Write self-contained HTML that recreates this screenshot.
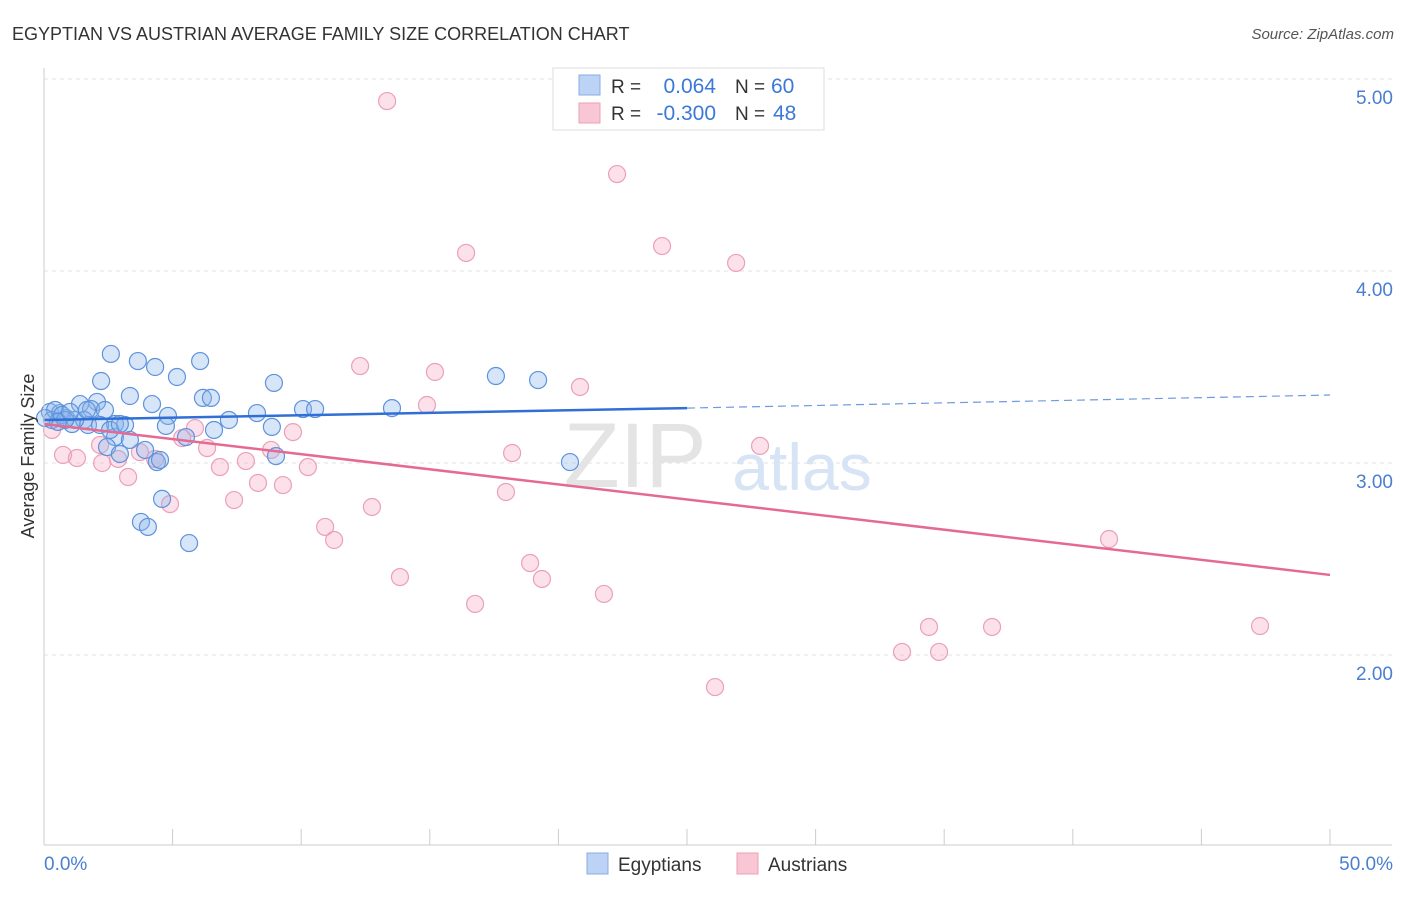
<!DOCTYPE html>
<html><head><meta charset="utf-8"><style>
body{margin:0;background:#fff;}
svg text{font-family:"Liberation Sans",sans-serif;}
</style></head><body>
<svg id="chart" width="1406" height="892" xmlns="http://www.w3.org/2000/svg">
<text x="12" y="40" font-size="18" fill="#333">EGYPTIAN VS AUSTRIAN AVERAGE FAMILY SIZE CORRELATION CHART</text>
<text x="1394" y="39" font-size="15" fill="#555" font-style="italic" text-anchor="end">Source: ZipAtlas.com</text>
<g id="grid"></g>
<text x="635" y="487" font-size="92" fill="#e4e4e4" font-family="Liberation Serif" text-anchor="middle">ZIP</text>
<text x="802" y="490" font-size="66" fill="#d6e4f5" text-anchor="middle">atlas</text>
<g id="points"></g>
<g id="trends"></g>
<line x1="44" y1="68" x2="44" y2="845" stroke="#ccc"/>
<line x1="44" y1="845" x2="1392" y2="845" stroke="#ccc"/>
<text transform="translate(34,456) rotate(-90)" font-size="18" fill="#333" text-anchor="middle">Average Family Size</text>
<text x="44" y="870" font-size="19" fill="#4a7fd0">0.0%</text>
<text x="1393" y="870" font-size="19" fill="#4a7fd0" text-anchor="end">50.0%</text>
<g>
<rect x="553" y="68" width="271" height="62" fill="#fff" stroke="#ddd"/>
<rect x="579" y="75" width="21" height="20" fill="#bcd3f5" stroke="#86aee6"/>
<rect x="579" y="103" width="21" height="20" fill="#f8c6d4" stroke="#eba0b6"/>
<text x="611" y="93" font-size="19" fill="#333">R =</text>
<text x="716" y="93" font-size="21" fill="#3b78d8" text-anchor="end">0.064</text>
<text x="735" y="93" font-size="19" fill="#333">N =</text>
<text x="771" y="93" font-size="21" fill="#3b78d8">60</text>
<text x="611" y="120" font-size="19" fill="#333">R =</text>
<text x="716" y="120" font-size="21" fill="#3b78d8" text-anchor="end">-0.300</text>
<text x="735" y="120" font-size="19" fill="#333">N =</text>
<text x="773" y="120" font-size="21" fill="#3b78d8">48</text>
</g>
<g>
<rect x="587" y="853" width="21" height="21" fill="#bcd3f5" stroke="#86aee6"/>
<text x="618" y="871" font-size="19" fill="#333">Egyptians</text>
<rect x="737" y="853" width="21" height="21" fill="#f8c6d4" stroke="#eba0b6"/>
<text x="768" y="871" font-size="19" fill="#333">Austrians</text>
</g>
</svg>
<script>
const yTicks=[5,4,3,2];
const yTickLabels=["5.00","4.00","3.00","2.00"];
const xTickCount=10;
const blueX=[2.60,3.65,4.32,6.07,2.22,5.17,3.34,4.20,6.18,6.49,8.94,17.57,19.21,1.40,2.06,1.83,2.37,4.82,7.19,8.28,10.07,10.54,13.53,0.23,0.62,0.86,1.09,1.56,2.76,3.15,4.74,6.61,8.86,5.52,1.71,2.76,3.34,2.45,2.95,3.93,4.39,4.51,9.02,20.45,4.59,3.77,4.04,5.64,0.31,0.43,0.70,1.21,1.67,2.18,2.57,0.82,0.54,0.04,2.95,1.01];
const blueY=[3.568,3.531,3.50,3.531,3.427,3.448,3.349,3.307,3.339,3.339,3.417,3.453,3.432,3.307,3.318,3.281,3.276,3.245,3.224,3.260,3.281,3.281,3.286,3.266,3.260,3.234,3.203,3.224,3.203,3.198,3.193,3.172,3.188,3.135,3.198,3.135,3.120,3.083,3.047,3.068,3.005,3.016,3.036,3.005,2.813,2.693,2.667,2.583,3.224,3.276,3.250,3.224,3.276,3.198,3.172,3.224,3.214,3.234,3.203,3.266];
const pinkX=[13.34,22.28,16.41,24.03,26.91,12.29,15.20,20.84,14.89,9.68,27.84,18.20,0.74,1.28,2.26,2.88,4.32,5.37,5.87,6.34,6.84,7.85,8.83,10.26,3.27,4.90,7.39,8.32,9.29,17.96,10.93,11.28,12.75,13.84,18.90,19.36,16.76,21.77,41.41,34.41,36.86,47.28,33.36,34.80,26.09,0.31,3.73,2.18];
const pinkY=[4.885,4.505,4.094,4.130,4.042,3.505,3.474,3.396,3.302,3.161,3.089,3.052,3.042,3.026,3.0,3.021,3.021,3.130,3.182,3.078,2.979,3.010,3.068,2.979,2.927,2.786,2.807,2.896,2.885,2.849,2.667,2.599,2.771,2.406,2.479,2.396,2.266,2.318,2.604,2.146,2.146,2.151,2.016,2.016,1.833,3.172,3.057,3.094];
const blueTrend=[3.224,3.286,3.354]; // at x=0, 25, 50
const pinkTrend=[3.203,2.417]; // at x=0, 50
const NS="http://www.w3.org/2000/svg";
function sx(v){return 44+v/50*1286;}
function sy(v){return 79+(5-v)*192;}
function mk(t,a,p){const e=document.createElementNS(NS,t);for(const k in a)e.setAttribute(k,a[k]);p.appendChild(e);return e;}
const grid=document.getElementById('grid');
yTicks.forEach((t,i)=>{
 const l=mk('line',{x1:44,x2:1392,y1:sy(t),y2:sy(t),stroke:'#e2e2e2','stroke-dasharray':'4,4'},grid);
 
 
 const tx=mk('text',{x:1393,y:sy(t)+25,'font-size':19,fill:'#4a7fd0','text-anchor':'end'},grid);
 tx.textContent=yTickLabels[i];
 
 
});
for(let i=1;i<=xTickCount;i++){
 const x=44+i*1286/xTickCount;
 const l=mk('line',{x1:x,x2:x,y1:829,y2:845,stroke:'#ccc'},grid);
 
 
}
const pts=document.getElementById('points');
pinkX.forEach((x,i)=>{
 const c=mk('circle',{cx:sx(x),cy:sy(pinkY[i]),r:8.5,fill:'rgba(245,170,195,0.35)',stroke:'#eba0b6','stroke-width':1.2},pts);
 
 
});
blueX.forEach((x,i)=>{
 const c=mk('circle',{cx:sx(x),cy:sy(blueY[i]),r:8.5,fill:'rgba(140,180,235,0.35)',stroke:'#5d93dd','stroke-width':1.2},pts);
 
 
});
const tr=document.getElementById('trends');
const b1=mk('line',{x1:sx(0),y1:sy(blueTrend[0]),x2:sx(25),y2:sy(blueTrend[1]),stroke:'#2f6fd6','stroke-width':2.5},tr);


const b2=mk('line',{x1:sx(25),y1:sy(blueTrend[1]),x2:sx(50),y2:sy(blueTrend[2]),stroke:'#6f9ae0','stroke-width':1.2,'stroke-dasharray':'8,5'},tr);


const p1=mk('line',{x1:sx(0),y1:sy(pinkTrend[0]),x2:sx(50),y2:sy(pinkTrend[1]),stroke:'#e56a93','stroke-width':2.5},tr);


</script>
</body></html>
